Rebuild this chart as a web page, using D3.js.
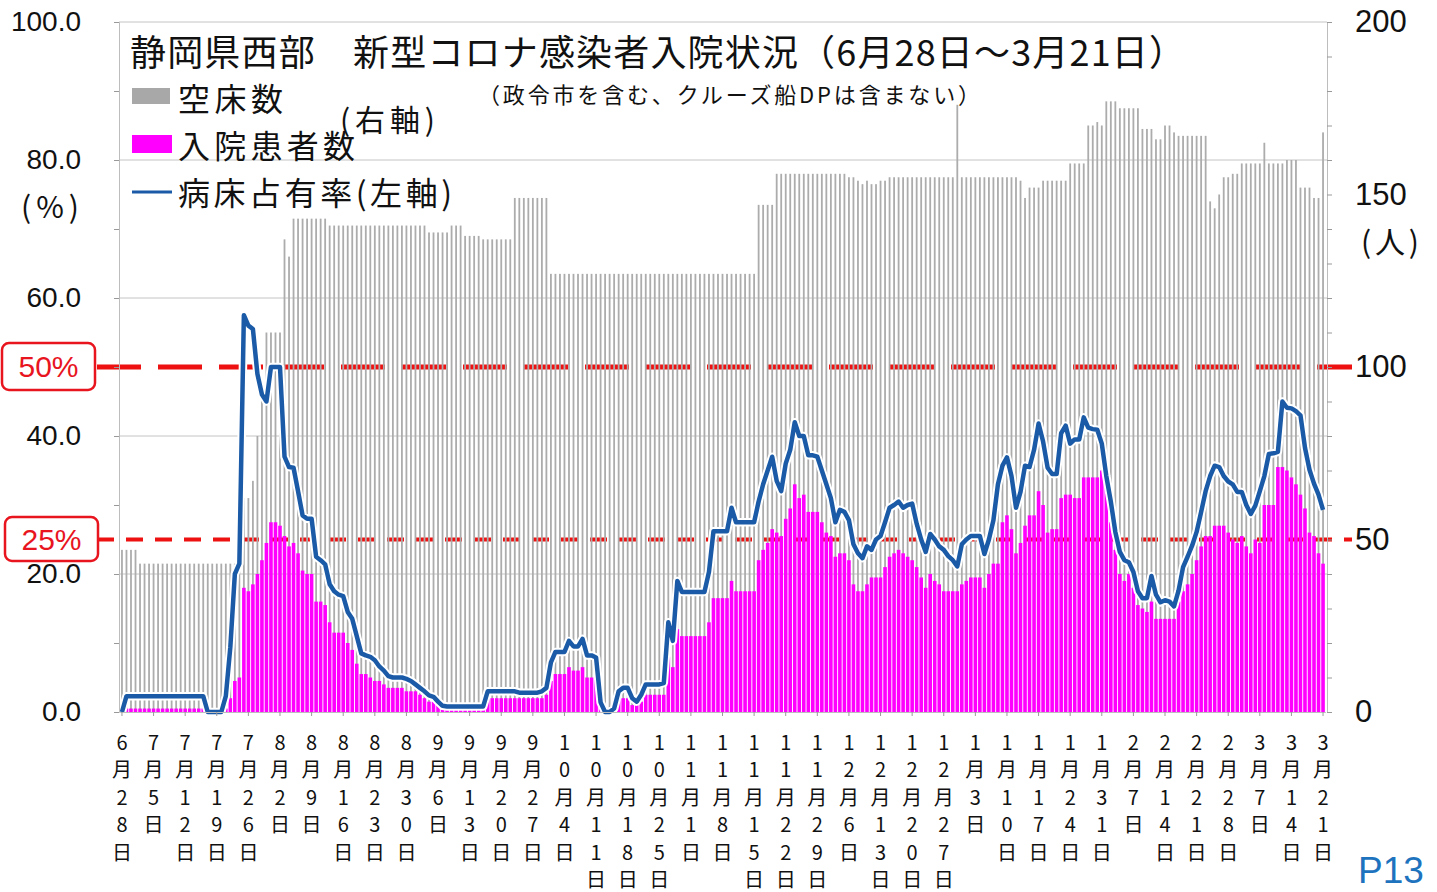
<!DOCTYPE html>
<html>
<head>
  <meta charset="UTF-8" />
  <title>静岡県西部 新型コロナ感染者入院状況</title>
  <style>
    body { margin: 0; background: #fff; }
    svg text { font-family: "Noto Sans CJK JP", sans-serif; fill: #111; }
    .num text, text.num { font-family: "Liberation Sans", Arial, sans-serif; }
  </style>
</head>
<body>
<div id="chart"></div>
<script src="https://cdn.jsdelivr.net/npm/d3@7/dist/d3.min.js"></script>
<script>
// one label per week, 6/28 .. 3/21
const tickLabels = ['6月28日','7月5日','7月12日','7月19日','7月26日','8月2日','8月9日','8月16日','8月23日','8月30日',
  '9月6日','9月13日','9月20日','9月27日','10月4日','10月11日','10月18日','10月25日','11月1日','11月8日',
  '11月15日','11月22日','11月29日','12月6日','12月13日','12月20日','12月27日','1月3日','1月10日','1月17日',
  '1月24日','1月31日','2月7日','2月14日','2月21日','2月28日','3月7日','3月14日','3月21日'];

// 確保病床数 (gray top = 入院患者数 + 空床数), persons, daily
const bedTotal = [
  47,47,47,47,43,43,43,43,43,43, 43,43,43,43,43,43,43,43,43,43,
  43,43,43,43,43,43,48,62,62,67, 80,95,110,110,110,110,137,132,143,143,
  143,143,143,143,143,143,141,141,141,141, 141,141,141,141,141,141,141,141,141,141,
  141,141,141,141,141,141,141,141,139,139, 139,139,139,141,141,141,138,138,138,138,
  137,137,137,137,137,137,137,149,149,149, 149,149,149,149,149,127,127,127,127,127,
  127,127,127,127,127,127,127,127,127,127, 127,127,127,127,127,127,127,127,127,127,
  127,127,127,127,127,127,127,127,127,127, 127,127,127,127,127,127,127,127,127,127,
  127,147,147,147,147,156,156,156,156,156, 156,156,156,156,156,156,156,156,156,156,
  156,155,155,154,153,154,153,153,154,154, 155,155,155,155,155,155,155,155,155,155,
  155,155,155,155,155,176,155,155,155,155, 155,155,155,155,155,155,155,155,155,154,
  149,152,152,152,154,154,154,154,154,154, 159,159,159,159,170,170,171,170,177,177,
  177,175,175,175,175,175,169,169,169,166, 166,170,170,168,167,167,167,167,167,167,
  167,148,146,150,155,155,156,156,159,159, 159,159,159,165,159,159,159,159,160,160,
  160,152,152,152,149,149,168
];

// 入院患者数, persons, daily
const patients = [
  0,1,1,1,1,1,1,1,1,1, 1,1,1,1,1,1,1,1,1,0,
  0,0,0,1,4,9,10,36,35,37, 40,44,49,55,55,54,51,48,49,46,
  41,40,40,32,32,31,26,23,23,23, 20,18,14,11,11,10,9,9,8,7,
  7,7,7,6,6,6,5,4,3,3, 2,1,1,1,1,1,1,1,1,1,
  1,4,4,4,4,4,4,4,4,4, 4,4,4,4,5,9,11,11,11,13,
  12,12,13,10,10,10,2,0,0,1, 4,4,4,2,2,3,5,5,5,5,
  5,16,13,24,22,22,22,22,22,22, 26,33,33,33,33,38,35,35,35,35,
  35,44,47,49,53,52,51,56,59,66, 62,63,58,58,58,55,52,51,45,46,
  46,44,37,35,35,37,39,39,39,42, 45,46,47,46,45,44,42,39,36,40,
  38,37,35,35,35,35,37,38,39,39, 39,36,40,43,43,55,57,53,46,49,
  54,57,57,64,60,52,53,53,62,63, 63,62,62,68,68,68,68,70,67,55,
  47,40,38,40,36,31,30,29,32,27, 27,27,27,27,32,35,37,40,44,48,
  51,51,54,54,54,52,50,49,51,48, 46,50,49,60,60,60,71,71,70,68,
  66,63,59,52,51,46,43
];

// 病床占有率, %, daily
const occupancy = [
  0,2.3,2.3,2.3,2.3,2.3,2.3,2.3,2.3,2.3, 2.3,2.3,2.3,2.3,2.3,2.3,2.3,2.3,2.3,0,
  0,0,0,2.3,9.4,20,21.5,57.5,56,55.5, 49,46,45,50,50,50,37,35.5,35.4,32,
  28.5,28,28,22.5,22,21.4,18.5,17.5,17,16.8, 14.5,13.5,11,8.5,8.2,8,7.5,6.6,6,5.2,
  5,5,5,4.8,4.5,4,3.5,3,2.4,2.2, 1.5,0.9,0.8,0.8,0.8,0.8,0.8,0.8,0.8,0.8,
  0.8,3,3,3,3,3,3,3,2.8,2.8, 2.8,2.8,2.8,3,3.5,7.2,8.7,8.7,8.7,10.3,
  9.5,9.5,10.6,8.2,8.2,7.9,1.4,0,0,0.5, 3,3.5,3.5,2,1.5,2.5,4,4,4,4,
  4.2,13,10.3,19,17.4,17.4,17.4,17.4,17.4,17.4, 20.3,26.2,26.2,26.2,26.2,29.6,27.5,27.5,27.5,27.5,
  27.5,30.5,33,35,37,33.5,32,36,38,42, 40,40,37.2,37.2,37,35,33,31,27.5,29.3,
  29,27.8,24.3,23,22.3,24,23.5,25,25.5,27.5, 29.6,30,30.5,29.6,30,30.2,27.3,25,23.2,25.8,
  25,24,23.5,22.6,22,21.1,24.3,25,25.5,25.5, 25.5,22.9,25,27.8,33,35.7,36.9,34.2,29.6,31.9,
  35.7,35.5,38,41.8,39.2,35.4,34.5,34.5,40.4,41.5, 38.9,39.5,39.5,42.7,41.2,41,40.9,38.9,34.2,30.5,
  26.1,23.2,22,21.7,20.3,17.5,16.5,16.5,19.7,17, 15.9,16.2,16,15.3,17.6,21,22.5,24.1,26.1,29,
  32,34.2,35.7,35.5,34.2,33.4,33,31.9,31.9,30, 28.7,29.9,32,34.2,37.4,37.5,37.7,45,44.1,44,
  43.6,43,38.3,35.1,33.1,31.5,29.3
];

const guideLines = [50, 25];   // 病床占有率の目安 (%)

const width = 1437, height = 892,
      plotLeft = 119, plotRight = 1327, plotTop = 22, plotBottom = 712;

const days = d3.range(bedTotal.length);

const svg = d3.select('#chart').append('svg')
  .attr('width', width)
  .attr('height', height)
  .style('display', 'block');

svg.append('rect').attr('width', width).attr('height', height).attr('fill', '#fff');

const x = d3.scaleBand()
  .domain(days)
  .range([119.7, 1325.3]);
const bw = x.bandwidth();
const cx = d => x(d) + bw / 2;

const yL = d3.scaleLinear().domain([0, 100]).range([plotBottom, plotTop]);
const yR = d3.scaleLinear().domain([0, 200]).range([plotBottom, plotTop]);

// gridlines
svg.append('g')
  .selectAll('line')
  .data(d3.range(20, 101, 20))
  .enter().append('line')
    .attr('x1', plotLeft).attr('x2', plotRight)
    .attr('y1', d => yL(d)).attr('y2', d => yL(d))
    .attr('stroke', '#c4c4c4')
    .attr('stroke-width', 1);

// 50% / 25% guide lines
svg.append('g')
  .selectAll('line')
  .data(guideLines)
  .enter().append('line')
    .attr('x1', 97).attr('x2', 1352)
    .attr('y1', d => yL(d)).attr('y2', d => yL(d))
    .attr('stroke', '#ee1111')
    .attr('stroke-width', d => d === 50 ? 5 : 4)
    .attr('stroke-dasharray', d => d === 50 ? '44,17' : '17,12');

// gray bars (empty beds sit on top of patients)
svg.append('g')
  .selectAll('rect')
  .data(days)
  .enter().append('rect')
    .attr('x', d => cx(d) - 0.9)
    .attr('width', 1.8)
    .attr('y', d => yR(bedTotal[d]))
    .attr('height', d => plotBottom - yR(bedTotal[d]))
    .attr('fill', '#acacac');

// patients
svg.append('g')
  .selectAll('rect')
  .data(days)
  .enter().append('rect')
    .attr('x', d => cx(d) - 1.8)
    .attr('width', 3.6)
    .attr('y', d => yR(patients[d]))
    .attr('height', d => plotBottom - yR(patients[d]))
    .attr('fill', '#ff00ff');

// occupancy line
const line = d3.line()
  .x(d => cx(d))
  .y(d => yL(occupancy[d]));

svg.append('path')
  .datum(days)
  .attr('d', line)
  .attr('fill', 'none')
  .attr('stroke', '#fff')
  .attr('stroke-width', 8.5)
  .attr('stroke-linejoin', 'round');

svg.append('path')
  .datum(days)
  .attr('d', line)
  .attr('fill', 'none')
  .attr('stroke', '#1a5aa6')
  .attr('stroke-width', 4.5)
  .attr('stroke-linejoin', 'round');

// left axis
const axL = svg.append('g')
  .attr('class', 'num')
  .attr('transform', `translate(${plotLeft},0)`)
  .call(d3.axisLeft(yL)
    .tickValues(d3.range(0, 101, 10))
    .tickSize(5)
    .tickPadding(33)
    .tickFormat(d => d % 20 === 0 ? d.toFixed(1) : ''));

// right axis
const axR = svg.append('g')
  .attr('class', 'num')
  .attr('transform', `translate(${plotRight},0)`)
  .call(d3.axisRight(yR)
    .tickValues(d3.range(0, 201, 10))
    .tickSize(5)
    .tickPadding(23)
    .tickFormat(d => d % 50 === 0 ? d : ''));

axL.selectAll('text').style('font-size', '28px');
axR.selectAll('text').style('font-size', '31px');
[axL, axR].forEach(a => {
  a.select('.domain').attr('stroke', '#bdbdbd');
  a.selectAll('.tick line').attr('stroke', '#999');
});

// bottom axis
const weekDays = days.filter(d => d % 7 === 0);
const axB = svg.append('g')
  .attr('transform', `translate(0,${plotBottom})`)
  .call(d3.axisBottom(x)
    .tickValues(weekDays)
    .tickSize(4)
    .tickSizeOuter(0)
    .tickFormat(''));
axB.select('.domain').attr('stroke', '#bdbdbd');
axB.selectAll('.tick line').attr('stroke', '#999');

// vertical date labels, one character per row
const labels = svg.append('g')
  .selectAll('text')
  .data(weekDays)
  .enter().append('text')
    .attr('text-anchor', 'middle')
    .style('font-size', '20px');

labels.each(function(d, i) {
  const chars = Array.from(tickLabels[i]);
  d3.select(this).selectAll('tspan')
    .data(chars)
    .enter().append('tspan')
      .attr('x', cx(d))
      .attr('y', (c, j) => 741 + j * 27.5)
      .attr('dominant-baseline', 'central')
      .text(c => c);
});

// axis unit labels
svg.append('text').attr('x', 50).attr('y', 205)
  .attr('text-anchor', 'middle').attr('dominant-baseline', 'central')
  .attr('textLength', 58).attr('lengthAdjust', 'spacing')
  .style('font-size', '30px').text('(%)');
svg.append('text').attr('x', 1361).attr('y', 240)
  .attr('dominant-baseline', 'central')
  .attr('textLength', 58).attr('lengthAdjust', 'spacing')
  .style('font-size', '30px').text('(人)');

// title
svg.append('text')
  .attr('x', 130).attr('y', 50)
  .attr('dominant-baseline', 'central')
  .attr('textLength', 1055)
  .attr('lengthAdjust', 'spacing')
  .style('font-size', '36px')
  .text('静岡県西部　新型コロナ感染者入院状況（6月28日～3月21日）');

svg.append('text')
  .attr('x', 478).attr('y', 93)
  .attr('dominant-baseline', 'central')
  .attr('textLength', 502)
  .attr('lengthAdjust', 'spacing')
  .style('font-size', '22px')
  .text('（政令市を含む、クルーズ船DPは含まない）');

// legend
svg.append('rect').attr('x', 132).attr('y', 88).attr('width', 38).attr('height', 16).attr('fill', '#a8a8a8');
svg.append('rect').attr('x', 132).attr('y', 135).attr('width', 40).attr('height', 18).attr('fill', '#ff00ff');
svg.append('line').attr('x1', 132).attr('x2', 172).attr('y1', 192).attr('y2', 192)
  .attr('stroke', '#1a5aa6').attr('stroke-width', 3);

const legendText = [
  {t: '空床数', x: 178, y: 97, w: 105, s: 32},
  {t: '入院患者数', x: 178, y: 144, w: 177, s: 32},
  {t: '(右軸)', x: 340, y: 118, w: 95, s: 30},
  {t: '病床占有率(左軸)', x: 178, y: 191, w: 274, s: 32}
];
svg.append('g')
  .selectAll('text')
  .data(legendText)
  .enter().append('text')
    .attr('x', d => d.x).attr('y', d => d.y)
    .attr('dominant-baseline', 'central')
    .attr('textLength', d => d.w)
    .attr('lengthAdjust', 'spacing')
    .style('font-size', d => d.s + 'px')
    .text(d => d.t);

// 50% / 25% boxes
const boxes = [{v: 50, x: 2, y: 343, h: 47}, {v: 25, x: 5, y: 517, h: 44}];
const box = svg.append('g')
  .selectAll('g')
  .data(boxes)
  .enter().append('g');
box.append('rect')
  .attr('x', d => d.x).attr('y', d => d.y)
  .attr('width', 93).attr('height', d => d.h)
  .attr('rx', 7)
  .attr('fill', '#fff')
  .attr('stroke', '#e8141e')
  .attr('stroke-width', 2.5);
box.append('text')
  .attr('class', 'num')
  .attr('x', d => d.x + 46.5).attr('y', d => d.y + d.h / 2)
  .attr('text-anchor', 'middle')
  .attr('dominant-baseline', 'central')
  .style('font-size', '30px')
  .style('fill', '#e8141e')
  .text(d => d.v + '%');

// page number
svg.append('text')
  .attr('class', 'num')
  .attr('x', 1358).attr('y', 870)
  .attr('dominant-baseline', 'central')
  .style('font-size', '37px')
  .style('fill', '#1e73be')
  .text('P13');
</script>
</body>
</html>
